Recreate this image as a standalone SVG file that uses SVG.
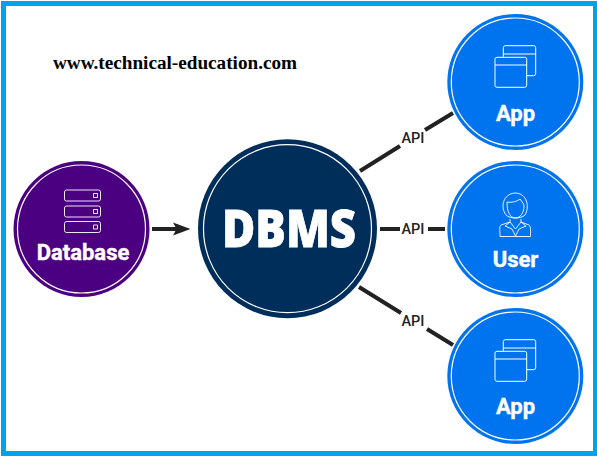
<svg xmlns="http://www.w3.org/2000/svg" width="597" height="456" viewBox="0 0 597 456">
<style>
.ring{fill:none;stroke:#fff;stroke-width:1.2}
.ic{fill:none;stroke:#fff;stroke-width:.9;stroke-linejoin:round}
.lbl{font-family:Roboto,"Liberation Sans",sans-serif;font-weight:700;fill:#fff;stroke:#fff;stroke-width:.4;text-anchor:middle;font-size:22px}
.api{font-family:Roboto,"Liberation Sans",sans-serif;font-size:14.5px;fill:#222;text-anchor:middle;font-weight:500}
.ln{stroke:#222;stroke-width:4;fill:none}
</style>
<defs>
<g id="win"><rect x="-12" y="-36.300" width="32.400" height="30" rx="2" fill="none" stroke="#fff"/><path d="M-12-28H20.400" stroke="#fff"/><rect x="-20.300" y="-24.700" width="31.700" height="30" rx="2" fill="#0073ee" stroke="#fff"/><path d="M-20.300-17H11.400" stroke="#fff"/></g>
</defs>
<rect width="597" height="456" fill="#fff"/>
<path d="M1 1H597V456H1ZM6 6V451H593V6Z" fill="#00a2e8" fill-rule="evenodd"/>
<text x="53" y="69" font-family="'Liberation Serif',serif" font-weight="700" font-size="19.200px" fill="#000">www.technical-education.com</text>
<g id="connectors">
<path class="ln" d="M152 229H178"/><path d="M190.500 229L173 222.500L176.500 229L173 235.500Z" fill="#222"/>
<path class="ln" d="M360 171L400 146M425 130L453 113"/>
<path class="ln" d="M380 229H400M428 229H445"/>
<path class="ln" d="M359 287L401 313M427 329L453 345"/>
<text class="api" x="413" y="143">API</text>
<text class="api" x="413" y="234">API</text>
<text class="api" x="413" y="326">API</text>
</g>
<g id="database">
<circle cx="81.500" cy="229" r="68" fill="#4b0082"/><circle class="ring" cx="81.500" cy="229" r="64"/>
<g class="ic"><rect x="64.500" y="190" width="36" height="11" rx="2"/><rect x="64.500" y="206" width="36" height="11" rx="2"/><rect x="64.500" y="221.500" width="36" height="11" rx="2"/><rect x="93.500" y="193.500" width="4" height="4"/><rect x="93.500" y="209.500" width="4" height="4"/><rect x="93.500" y="225" width="4" height="4"/></g>
<text class="lbl" x="83" y="260">Database</text>
</g>
<g id="dbms">
<circle cx="287.500" cy="228.700" r="89.500" fill="#002e5b"/><circle class="ring" cx="287.500" cy="228.700" r="84"/>
<text x="222" y="247" textLength="134" lengthAdjust="spacingAndGlyphs" font-family="'Open Sans','Liberation Sans',sans-serif" font-weight="800" font-size="52px" fill="#fff" stroke="#fff" stroke-width=".8">DBMS</text>
</g>
<g id="app1">
<circle cx="515.300" cy="82" r="68" fill="#0073ee"/><circle class="ring" cx="515.300" cy="82" r="64"/>
<use href="#win" x="515.300" y="82"/>
<text class="lbl" x="515.500" y="121">App</text>
</g>
<g id="user">
<circle cx="515.300" cy="229" r="68" fill="#0073ee"/><circle class="ring" cx="515.300" cy="229" r="64"/>
<g class="ic"><path d="M506 215C500 207 503 194 515 193C527 193 530 207 525 215C521 219 510 219 506 215Z"/><path d="M507 202C512 203 518 201 520 199C522 202 524 204 524 206C524 213 520 218 515.500 218C510 218 507 212 507 202Z"/><path d="M510 219V222L501 225C499 226 500 232 500 236.500H530.500C530.500 232 531 226 529 225L521 222V219"/><path d="M510 222L505 226L512 229L515.500 236L519 229L526 226L521 222L515.500 229Z"/></g>
<text class="lbl" x="515.500" y="267">User</text>
</g>
<g id="app2">
<circle cx="515.300" cy="376" r="68" fill="#0073ee"/><circle class="ring" cx="515.300" cy="376" r="64"/>
<use href="#win" x="515.300" y="376"/>
<text class="lbl" x="515.500" y="414">App</text>
</g>
</svg>
